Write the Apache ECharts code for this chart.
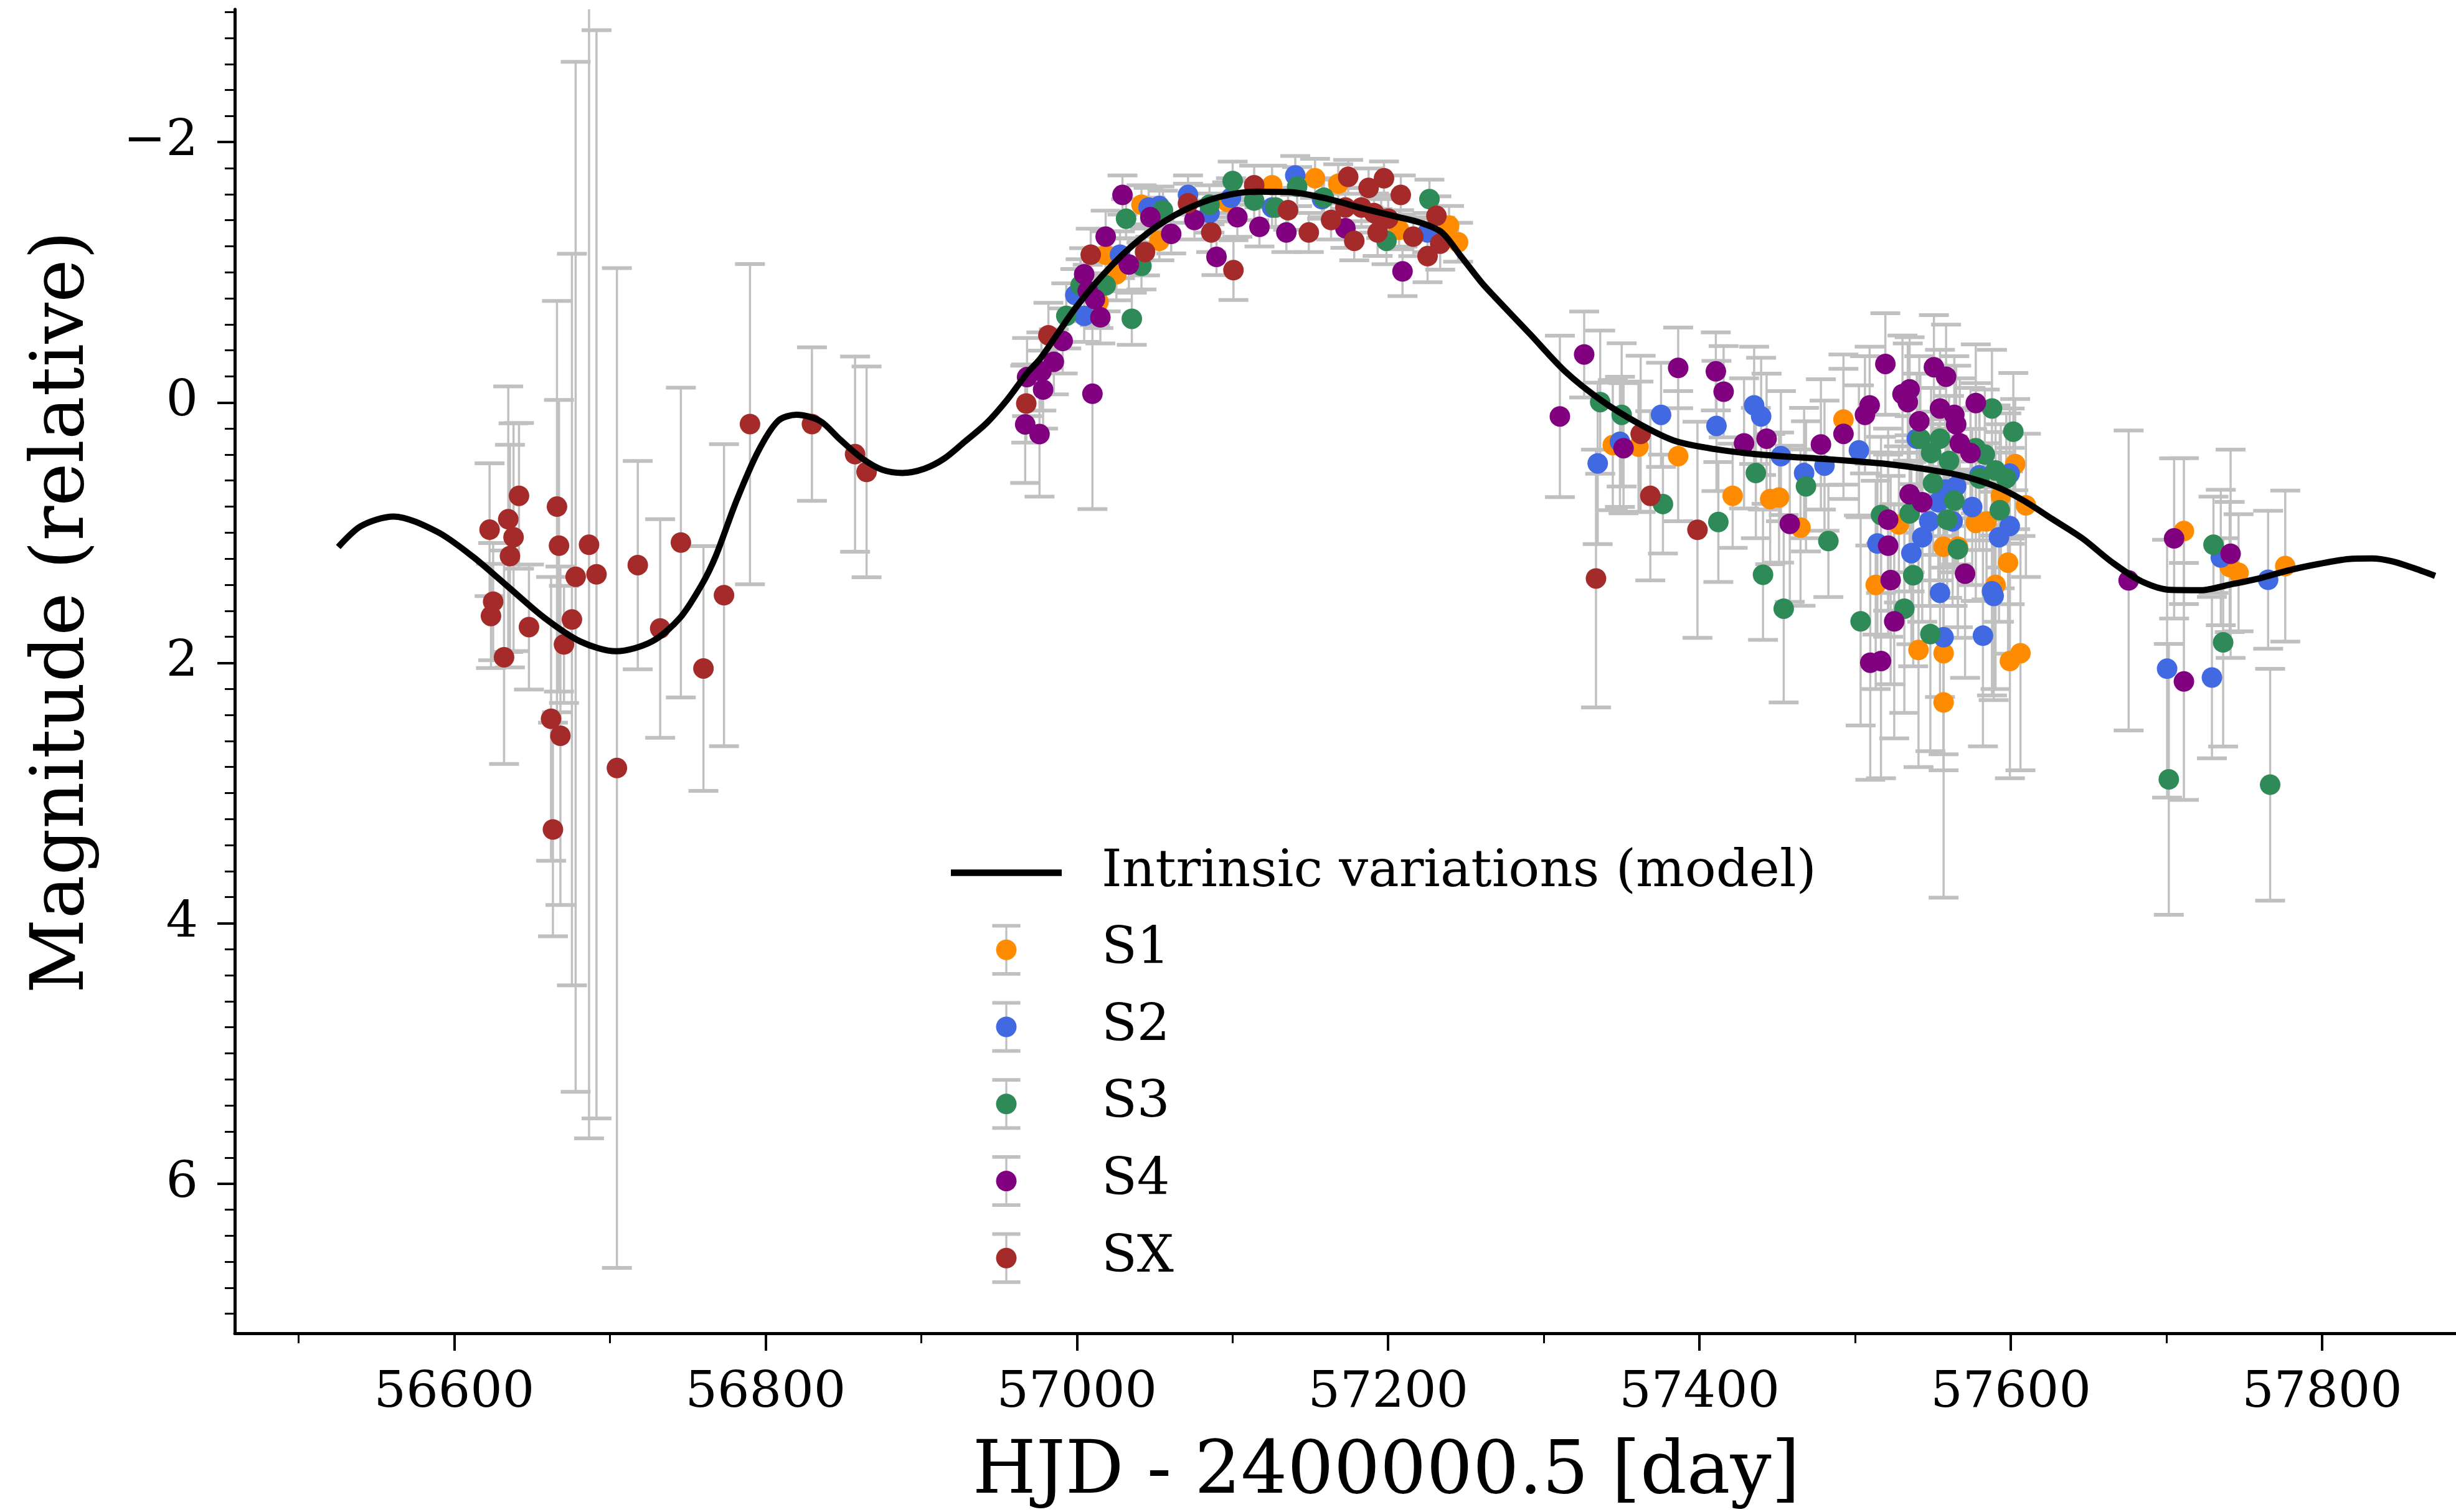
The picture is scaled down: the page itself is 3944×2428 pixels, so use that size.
<!DOCTYPE html>
<html><head><meta charset="utf-8">
<script src="https://cdn.jsdelivr.net/npm/echarts@6/dist/echarts.min.js"></script>
<style>html,body{margin:0;padding:0;background:#fff}#c{width:3944px;height:2428px}</style>
</head><body><div id="c"></div>
<script>
// ---------------- DATA ----------------
const xMajor = [56600, 56800, 57000, 57200, 57400, 57600, 57800];
const xMinor = [56500, 56700, 56900, 57100, 57300, 57500, 57700];
const yMajor = [-2, 0, 2, 4, 6];

const modelName = 'Intrinsic variations (model)';
const modelDay = [56525.5,56540,56561,56589,56612,56635,56658,56681,56704,56727,56745,56759,56768,56781,56795,56808,56820,56835,56848,56862,56875,56888,56902,56915,56928,56942,56955,56968,56977,57000,57023,57046,57069,57092,57115,57138,57161,57184,57207,57221,57234.5,57246,57260,57268.5,57291,57314,57337,57360,57383,57406,57429,57452,57475,57498,57521,57544,57567,57590,57608,57627,57646,57665,57684,57703,57722,57741,57760,57779,57798,57817,57832,57845,57858,57872.6];
const modelMag = [1.11,0.95,0.876,0.993,1.185,1.42,1.655,1.836,1.911,1.836,1.655,1.40,1.18,0.764,0.381,0.142,0.094,0.142,0.286,0.429,0.517,0.541,0.509,0.429,0.301,0.158,-0.018,-0.225,-0.345,-0.74,-1.06,-1.306,-1.477,-1.58,-1.62,-1.615,-1.565,-1.49,-1.423,-1.38,-1.306,-1.135,-0.921,-0.81,-0.527,-0.235,-0.015,0.156,0.29,0.351,0.388,0.412,0.43,0.449,0.473,0.51,0.559,0.644,0.752,0.898,1.044,1.227,1.374,1.44,1.442,1.398,1.35,1.288,1.24,1.203,1.198,1.22,1.269,1.332];

const s1Day = [57041.5,57153,57125.4,57018.5,57025.4,57053,57096.6,57207,57239.1,57244.9,57167.9,57013.9,57344.3,57360.8,57386.3,57421.3,57445.4,57451.1,57464.9,57492.5,57513.2,57528.1,57540.7,57556.8,57556.8,57556.8,57566,57577.5,57584.4,57598.2,57590.2,57599.4,57606.2,57602.8,57609.7,57593.6,57711.2,57740.6,57746.3,57776.3];
const s1Mag = [-1.519,-1.722,-1.669,-1.135,-0.985,-1.242,-1.541,-1.327,-1.359,-1.231,-1.680,-0.772,0.327,0.339,0.412,0.717,0.742,0.73,0.961,0.131,1.401,0.937,1.901,1.926,2.304,1.108,1.108,0.925,0.913,1.23,1.401,1.986,1.926,0.473,0.79,0.717,0.988,1.264,1.308,1.257];
const s1Err = [0.15,0.15,0.15,0.18,0.2,0.15,0.15,0.15,0.15,0.15,0.15,0.2,0.5,0.5,0.5,0.4,0.5,0.5,0.6,0.5,0.8,0.6,0.9,0.9,1.5,0.7,0.7,0.6,0.6,0.7,0.8,0.9,0.9,0.5,0.55,0.55,0.56,0.5,0.45,0.58];

const s2Day = [57071.4,57140.3,57004.7,56999,57027.7,57053,57046.1,57085.2,57099,57125.4,57157.5,57195.5,57225.3,57375.3,57334.6,57348.9,57410.9,57435.1,57439.6,57452.3,57467.2,57480.3,57502.4,57539.6,57514.3,57536.1,57543.1,57553.4,57558,57564.9,57575.2,57562.6,57547.6,57554.5,57556.8,57582.1,57587.9,57589,57592.4,57599.3,57599.3,57579.8,57700.4,57734.9,57729.2,57765.3];
const s2Mag = [-1.594,-1.744,-0.665,-0.825,-1.135,-1.509,-1.498,-1.455,-1.573,-1.498,-1.562,-1.413,-1.306,0.095,0.468,0.302,0.18,0.022,0.107,0.412,0.542,0.485,0.368,0.278,1.083,1.157,1.035,0.766,0.668,0.644,0.803,0.913,0.913,1.462,1.803,1.791,1.45,1.486,1.035,0.949,0.546,0.559,2.045,1.191,2.113,1.362];
const s2Err = [0.15,0.15,0.2,0.2,0.18,0.15,0.15,0.15,0.15,0.15,0.15,0.15,0.15,0.4,0.62,0.5,0.5,0.45,0.45,0.5,0.5,0.5,0.5,0.5,0.7,0.7,0.65,0.6,0.6,0.6,0.6,0.65,0.65,0.8,0.9,0.85,0.8,0.8,0.65,0.6,0.5,0.5,0.99,0.52,0.62,0.53];

const s3Day = [57031.6,57035.3,57002.4,56993.2,57018.5,57041.5,57055.3,57085.2,57100.1,57113.9,57127.7,57141.5,57158.7,57198.9,57226.5,57336.2,57350,57376.5,57412.1,57436.2,57440.8,57454.1,57468.4,57482.8,57503.5,57516.6,57535,57537.3,57531.6,57548.3,57566,57559.1,57563.7,57592.9,57587.9,57601.6,57541.9,57554.5,57548.8,57560.3,57577.5,57583.3,57590.2,57597.1,57579.8,57550,57701.5,57730.2,57736.4,57766.6];
const s3Mag = [-1.412,-0.643,-0.900,-0.665,-0.900,-1.049,-1.477,-1.519,-1.701,-1.551,-1.498,-1.658,-1.573,-1.242,-1.562,-0.003,0.095,0.78,0.918,0.542,1.323,1.584,0.644,1.064,1.681,0.864,0.852,1.327,1.584,1.779,1.127,0.9,0.754,0.827,0.046,0.224,0.278,0.278,0.388,0.449,0.351,0.40,0.522,0.583,0.583,0.62,2.895,1.093,1.843,2.936];
const s3Err = [0.15,0.2,0.2,0.25,0.2,0.18,0.15,0.15,0.15,0.15,0.15,0.15,0.15,0.18,0.15,0.55,0.55,0.38,0.46,0.5,0.5,0.72,0.5,0.43,0.8,0.6,0.6,0.7,0.8,0.9,0.6,0.6,0.55,0.6,0.45,0.45,0.5,0.5,0.5,0.5,0.5,0.5,0.5,0.5,0.55,0.55,1.04,0.37,0.80,0.89];

const s4Day = [57029.3,57018.5,57004.7,57007,57011.6,57015.1,56985.2,56968,56977.2,56978.3,56990.9,56966.8,56976,57010,57033.4,57047.2,57060.6,57075.5,57089.7,57103.1,57117.3,57134.6,57172.5,57209.2,57325.9,57310.3,57386.3,57410.5,57415.5,57351.2,57428.6,57443.1,57478,57492.5,57506.3,57509.3,57519.4,57530.4,57535,57533.8,57550.6,57558.4,57554.5,57541.2,57563.7,57564.9,57577.5,57567.2,57574.1,57535,57543.1,57521.2,57521.2,57522.8,57525.1,57509.7,57516.6,57570.6,57458,57675.7,57704.9,57711.2,57741.2];
const s4Mag = [-1.594,-1.274,-0.985,-0.857,-0.793,-0.654,-0.313,-0.195,-0.238,-0.099,-0.473,0.168,0.243,-0.067,-1.060,-1.423,-1.295,-1.402,-1.118,-1.423,-1.349,-1.306,-1.338,-1.007,-0.369,0.107,-0.266,-0.239,-0.083,0.351,0.314,0.278,0.322,0.241,0.095,0.022,-0.296,-0.064,-0.101,-0.003,-0.271,-0.198,0.046,0.144,0.095,0.168,0.004,0.314,0.388,0.705,0.766,0.90,1.10,1.364,1.681,1.999,1.986,1.315,0.932,1.367,1.044,2.143,1.162];
const s4Err = [0.15,0.2,0.2,0.2,0.2,0.2,0.25,0.3,0.3,0.3,0.25,0.45,0.48,0.886,0.2,0.15,0.15,0.15,0.14,0.15,0.15,0.15,0.15,0.19,0.33,0.62,0.31,0.30,0.35,0.5,0.5,0.5,0.5,0.5,0.45,0.45,0.39,0.45,0.4,0.45,0.4,0.4,0.45,0.5,0.45,0.45,0.45,0.5,0.5,0.6,0.6,0.7,0.7,0.8,0.9,0.9,0.9,0.8,0.6,1.152,0.615,0.91,0.80];

const sxDay = [56622.7,56634.7,56641.6,56638.1,56635.8,56625,56623.6,56648,56632,56666,56667.3,56675.6,56678,56686.6,56691.4,56670.5,56662.2,56668.2,56704.5,56717.9,56732.3,56745.6,56760.1,56773.3,56790,56663.4,56829.8,56857.5,56864.9,57008.9,56981.7,56967.5,57043.8,57071.4,57086.3,57100.6,57113.9,57135.7,57149,57163.3,57174.3,57178.2,57182.8,57187.4,57193.2,57197.3,57208.1,57200,57216.1,57231,57225.3,57233.4,57190.9,57172.5,57362.2,57368.4,57398.7,57333.5];
const sxMag = [0.977,0.897,0.717,1.035,1.18,1.53,1.64,1.725,1.957,0.80,1.10,1.667,1.339,1.093,1.32,1.858,2.43,2.56,2.808,1.249,1.736,1.076,2.043,1.48,0.166,3.28,0.166,0.397,0.533,-1.135,-0.516,0.008,-1.156,-1.530,-1.306,-1.017,-1.669,-1.477,-1.306,-1.402,-1.733,-1.242,-1.498,-1.648,-1.306,-1.722,-1.594,-1.413,-1.274,-1.434,-1.124,-1.220,-1.455,-1.498,0.241,0.717,0.978,1.352];
const sxErr = [0.51,1.02,0.56,0.875,0.855,0.45,0.40,0.48,0.82,1.58,1.12,2.81,3.956,4.56,4.18,0.45,1.09,1.30,3.84,0.80,0.84,1.19,0.94,1.16,1.23,0.82,0.59,0.75,0.81,0.2,0.25,0.3,0.18,0.15,0.15,0.23,0.15,0.15,0.15,0.15,0.13,0.15,0.15,0.15,0.18,0.13,0.15,0.15,0.15,0.15,0.2,0.2,0.15,0.15,0.6,0.65,0.83,0.99];

// ---------------- CHART ----------------
const FONT = 'DejaVu Serif';
const GRAY = '#c0c0c0';
const groups = [
  {name: 'S1', color: '#ff8c00', d: s1Day, m: s1Mag, e: s1Err},
  {name: 'S2', color: '#4169e1', d: s2Day, m: s2Mag, e: s2Err},
  {name: 'S3', color: '#2e8b57', d: s3Day, m: s3Mag, e: s3Err},
  {name: 'S4', color: '#800080', d: s4Day, m: s4Mag, e: s4Err},
  {name: 'SX', color: '#a52a2a', d: sxDay, m: sxMag, e: sxErr}
];
const yMinor = [];
for (let k = -15; k <= 35; k++) yMinor.push(+(k * 0.2).toFixed(1));

function errRender(params, api) {
  const x = api.value(0);
  const lo = api.coord([x, api.value(1)]);
  const hi = api.coord([x, api.value(2)]);
  const hw = 24;
  return {
    type: 'group',
    children: [
      {type: 'line', shape: {x1: lo[0], y1: lo[1], x2: hi[0], y2: hi[1]}, style: {stroke: GRAY, lineWidth: 3.5}},
      {type: 'line', shape: {x1: lo[0] - hw, y1: lo[1], x2: lo[0] + hw, y2: lo[1]}, style: {stroke: GRAY, lineWidth: 6}},
      {type: 'line', shape: {x1: hi[0] - hw, y1: hi[1], x2: hi[0] + hw, y2: hi[1]}, style: {stroke: GRAY, lineWidth: 6}}
    ]
  };
}

const series = [];
groups.forEach(g => {
  series.push({
    type: 'custom', name: g.name + ' err', clip: true, silent: true,
    data: g.d.map((x, i) => [x, g.m[i] - g.e[i], g.m[i] + g.e[i]]),
    encode: {x: 0, y: [1, 2]},
    renderItem: errRender
  });
  series.push({
    type: 'scatter', name: g.name, symbol: 'circle', symbolSize: 33,
    data: g.d.map((x, i) => [x, g.m[i]]),
    itemStyle: {color: g.color, opacity: 1, borderWidth: 0}
  });
});
series.push({
  type: 'line', name: modelName, z: 3, smooth: 0.3, symbol: 'none', showSymbol: false,
  data: modelDay.map((x, i) => [x, modelMag[i]]),
  lineStyle: {color: '#000', width: 10, cap: 'butt'},
  itemStyle: {color: '#000'}
});

const IBEAM = 'path://M0,0H48V6H0Z M22.25,6H25.75V82H22.25Z M0,82H48V88H0Z';
const LINEICON = 'path://M0,0H178V10H0Z';
const legendCommon = {
  orient: 'vertical', left: 1527, top: 1360, itemGap: 40.75, selectedMode: false,
  itemWidth: 178, padding: 0
};

const option = {
  animation: false,
  backgroundColor: '#fff',
  textStyle: {fontFamily: FONT},
  grid: {left: 377, right: 0, top: 15, bottom: 287, containLabel: false, outerBoundsMode: 'none'},
  xAxis: [
    {
      type: 'value', min: 56459, max: 57886, position: 'bottom',
      splitLine: {show: false},
      axisLine: {show: true, onZero: false, lineStyle: {color: '#000', width: 5}},
      axisTick: {show: true, length: 28, lineStyle: {color: '#000', width: 4}, customValues: xMajor},
      axisLabel: {customValues: xMajor, fontFamily: FONT, fontSize: 81, color: '#000', margin: 97,
        verticalAlign: 'middle', formatter: v => String(v)},
      name: 'HJD - 2400000.5 [day]', nameLocation: 'middle', nameGap: 226,
      nameTextStyle: {fontFamily: FONT, fontSize: 117, color: '#000', verticalAlign: 'middle', lineHeight: 117,
        padding: [0, 0, 0, 131]}
    },
    {
      type: 'value', min: 56459, max: 57886, position: 'bottom',
      splitLine: {show: false},
      axisLine: {show: false, onZero: false},
      axisTick: {show: true, length: 16, lineStyle: {color: '#000', width: 3}, customValues: xMinor},
      axisLabel: {show: false}
    }
  ],
  yAxis: [
    {
      type: 'value', inverse: true, min: -3.02, max: 7.15, position: 'left',
      splitLine: {show: false},
      axisLine: {show: true, onZero: false, lineStyle: {color: '#000', width: 5}},
      axisTick: {show: true, length: 28, lineStyle: {color: '#000', width: 4}, customValues: yMajor},
      axisLabel: {customValues: yMajor, fontFamily: FONT, fontSize: 81, color: '#000', margin: 59,
        formatter: v => (v < 0 ? '\u2212' + Math.abs(v) : String(v))},
      name: 'Magnitude (relative)', nameLocation: 'middle', nameGap: 274, nameRotate: 90,
      nameTextStyle: {fontFamily: FONT, fontSize: 117, color: '#000', verticalAlign: 'middle', lineHeight: 117,
        padding: [0, 0, 0, 190]}
    },
    {
      type: 'value', inverse: true, min: -3.02, max: 7.15, position: 'left',
      splitLine: {show: false},
      axisLine: {show: false, onZero: false},
      axisTick: {show: true, length: 16, lineStyle: {color: '#000', width: 3}, customValues: yMinor},
      axisLabel: {show: false}
    }
  ],
  legend: [
    Object.assign({}, legendCommon, {
      itemHeight: 83,
      textStyle: {fontFamily: FONT, fontSize: 83, lineHeight: 83, color: '#000', padding: [0, 0, 0, 59]},
      data: [
        {name: modelName, icon: LINEICON},
        {name: 'S1', icon: IBEAM, itemStyle: {color: GRAY}},
        {name: 'S2', icon: IBEAM, itemStyle: {color: GRAY}},
        {name: 'S3', icon: IBEAM, itemStyle: {color: GRAY}},
        {name: 'S4', icon: IBEAM, itemStyle: {color: GRAY}},
        {name: 'SX', icon: IBEAM, itemStyle: {color: GRAY}}
      ]
    }),
    Object.assign({}, legendCommon, {
      itemHeight: 33,
      textStyle: {fontFamily: FONT, fontSize: 83, lineHeight: 83, color: 'rgba(0,0,0,0)', padding: [0, 0, 0, 59]},
      data: [
        {name: modelName, icon: LINEICON},
        {name: 'S1', icon: 'circle'},
        {name: 'S2', icon: 'circle'},
        {name: 'S3', icon: 'circle'},
        {name: 'S4', icon: 'circle'},
        {name: 'SX', icon: 'circle'}
      ]
    })
  ],
  series: series
};

const chart = echarts.init(document.getElementById('c'), null, {renderer: 'canvas', width: 3944, height: 2428});
chart.setOption(option);
</script>
</body></html>
